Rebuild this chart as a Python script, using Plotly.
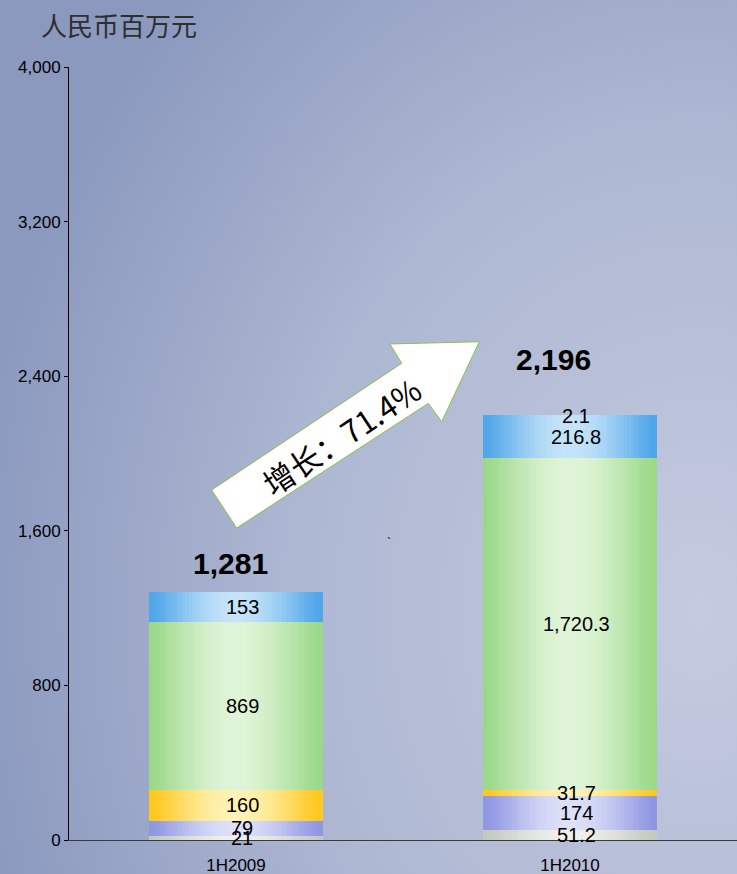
import base64
import math
import plotly.graph_objects as go

# ---------------- data ----------------
periods = ["1H2009", "1H2010"]
seg_grey = [21, 51.2]
seg_purple = [79, 174]
seg_yellow = [160, 31.7]
seg_green = [869, 1720.3]
seg_blue = [153, 216.8]
seg_top = [0, 2.1]
seg_labels = [
    ["21", "51.2"],
    ["79", "174"],
    ["160", "31.7"],
    ["869", "1,720.3"],
    ["153", "216.8"],
    ["", "2.1"],
]
totals = [1281, 2196]
total_labels = ["1,281", "2,196"]
growth_text = "增长：71.4%"
unit_title = "人民币百万元"
y_ticks = [0, 800, 1600, 2400, 3200, 4000]

series = [seg_grey, seg_purple, seg_yellow, seg_green, seg_blue, seg_top]
# (edge colour, centre colour) for horizontal gradient
palette = [
    ("#c4c8c1", "#efefeb"),
    ("#8e95e2", "#dde0f8"),
    ("#ffc71c", "#fff2b6"),
    ("#9bd889", "#dff4d7"),
    ("#4ea5e9", "#c4e3f9"),
    ("#4ea5e9", "#c4e3f9"),
]

# ---------------- layout geometry ----------------
W, H = 737, 874
ML, MR, MT, MB = 69, 0, 67, 34
PW, PH = W - ML - MR, H - MT - MB

BAR_W = 0.516
N = 48
strip = BAR_W / N


def hex2rgb(h):
    h = h.lstrip("#")
    return tuple(int(h[i:i + 2], 16) for i in (0, 2, 4))


def mix(c1, c2, f):
    a, b = hex2rgb(c1), hex2rgb(c2)
    return "rgb(%d,%d,%d)" % tuple(round(a[i] + (b[i] - a[i]) * f) for i in range(3))


offsets = [(-BAR_W / 2 + strip * (k + 0.5)) for k in range(N)]
factors = []
for o in offsets:
    t = abs(o) / (BAR_W / 2)
    factors.append(math.cos(math.pi / 2 * min(t, 1)) ** 1.3)

fig = go.Figure()
for s_idx, vals in enumerate(series):
    xs, ys, cols = [], [], []
    edge, centre = palette[s_idx]
    for i, v in enumerate(vals):
        for o, f in zip(offsets, factors):
            xs.append(i + o)
            ys.append(v)
            cols.append(mix(edge, centre, f))
    fig.add_trace(go.Bar(
        x=xs, y=ys, width=strip * 1.2,
        marker=dict(color=cols, line=dict(width=0)),
        showlegend=False, hoverinfo="skip",
    ))

annotations = []
# segment labels
for i in range(len(periods)):
    base = 0
    for s_idx, vals in enumerate(series):
        v = vals[i]
        lab = seg_labels[s_idx][i]
        if lab:
            annotations.append(dict(
                x=i, y=base + v / 2, xref="x", yref="y", text=lab,
                showarrow=False, xshift=6,
                font=dict(family="Arial, Liberation Sans", size=20, color="#000000"),
            ))
        base += v

# totals
total_shift = [(-6, 10), (-17, 38)]
for i, (tv, tl) in enumerate(zip(totals, total_labels)):
    annotations.append(dict(
        x=i, y=tv, xref="x", yref="y", text="<b>%s</b>" % tl,
        showarrow=False, yanchor="bottom", xshift=total_shift[i][0], yshift=total_shift[i][1],
        font=dict(family="Arial, Liberation Sans", size=30, color="#000000"),
    ))


def px2paper(px, py):
    return (px - ML) / PW, (H - MB - py) / PH


arrow_px = [(211.7, 490), (401.7, 363.3), (390, 344), (479.3, 341.7),
            (441.7, 421.7), (428.3, 403.3), (236.7, 528)]
pts = [px2paper(*p) for p in arrow_px]
path = "M " + " L ".join("%.4f,%.4f" % p for p in pts) + " Z"

shapes = [dict(type="path", xref="paper", yref="paper", path=path,
               fillcolor="#ffffff", line=dict(color="#8cc04a", width=1))]

ax, ay = px2paper(341, 435)
annotations.append(dict(
    x=ax, y=ay, xref="paper", yref="paper", text=growth_text, showarrow=False,
    textangle=-33.7,
    font=dict(family="Noto Sans CJK SC, Arial", size=31, color="#000000"),
))

tx, ty = px2paper(39, 25)
annotations.append(dict(
    x=tx, y=ty, xref="paper", yref="paper", text=unit_title, showarrow=False,
    xanchor="left", yanchor="middle",
    font=dict(family="Noto Sans CJK SC", size=26, color="#2e2e2e"),
))

bx, by = px2paper(389, 543)
annotations.append(dict(
    x=bx, y=by, xref="paper", yref="paper", text="`", showarrow=False,
    font=dict(family="Arial, Liberation Sans", size=12, color="#000000"),
))

svg = (
    '<svg xmlns="http://www.w3.org/2000/svg" width="737" height="874" viewBox="0 0 737 874" '
    'preserveAspectRatio="none"><defs>'
    '<radialGradient id="g" cx="0.95" cy="0.7" r="1.0">'
    '<stop offset="0" stop-color="#c4cbe0"/>'
    '<stop offset="0.55" stop-color="#aeb7d2"/>'
    '<stop offset="1" stop-color="#8b99bf"/>'
    '</radialGradient></defs>'
    '<rect width="737" height="874" fill="url(#g)"/></svg>'
)
bg_uri = "data:image/svg+xml;base64," + base64.b64encode(svg.encode()).decode()

fig.update_layout(
    width=W, height=H,
    margin=dict(l=ML, r=MR, t=MT, b=MB),
    barmode="stack", bargap=0,
    paper_bgcolor="#a8b2cf", plot_bgcolor="rgba(0,0,0,0)",
    annotations=annotations, shapes=shapes,
    images=[dict(source=bg_uri, xref="paper", yref="paper",
                 x=-ML / PW, y=1 + MT / PH, sizex=W / PW, sizey=H / PH,
                 xanchor="left", yanchor="top", sizing="stretch", layer="below")],
    xaxis=dict(
        range=[-0.5, 1.5], tickvals=list(range(len(periods))), ticktext=periods,
        showgrid=False, zeroline=False, showline=True, linecolor="#3a3a3a", linewidth=1,
        ticks="", ticklabelstandoff=10, automargin=False,
        tickfont=dict(family="Arial, Liberation Sans", size=17, color="#000000"),
    ),
    yaxis=dict(
        range=[0, 4000], tickvals=y_ticks, tickformat=",d", automargin=False,
        showgrid=False, zeroline=False, showline=True, linecolor="#000000", linewidth=1,
        ticks="outside", ticklen=4, tickcolor="#000000",
        tickfont=dict(family="Arial, Liberation Sans", size=17, color="#000000"),
    ),
)

fig.write_html(
    "out.html",
    config={"displayModeBar": False},
    post_script="document.body.style.margin='0';document.body.style.overflow='hidden';",
)
